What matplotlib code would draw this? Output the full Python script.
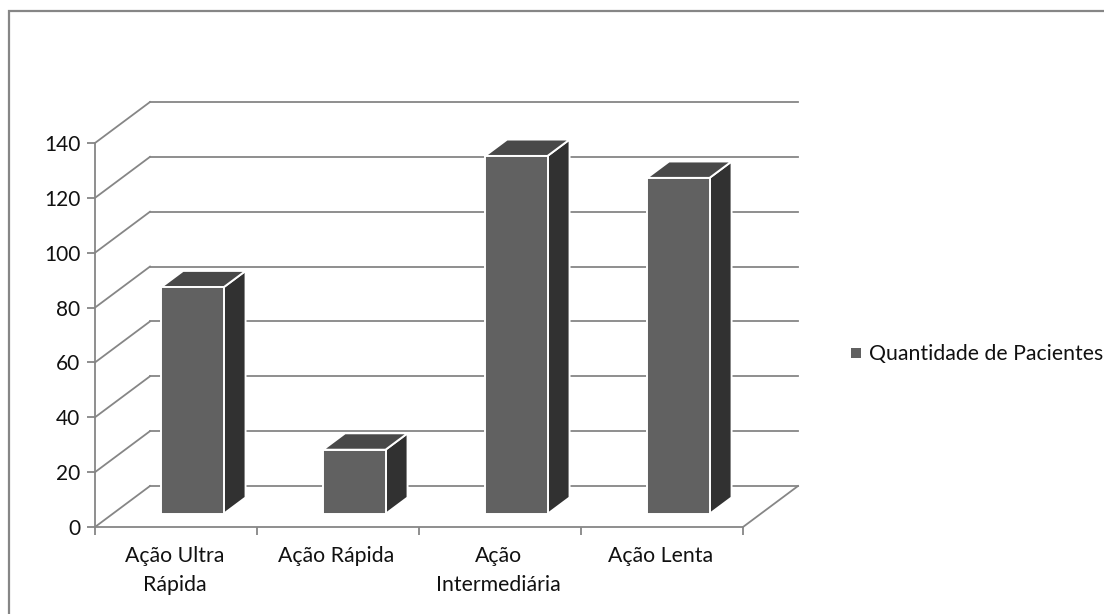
import matplotlib
matplotlib.use("Agg")
import matplotlib.pyplot as plt
from matplotlib.patches import Polygon, Rectangle

categories = ["Ação Ultra\nRápida", "Ação Rápida", "Ação\nIntermediária", "Ação Lenta"]
pacientes = [82.6, 23.4, 130.5, 122.5]
y_ticks = [0, 20, 40, 60, 80, 100, 120, 140]
serie = "Quantidade de Pacientes"

GRID = "#868686"
FRONT = "#616161"
TOP = "#494949"
SIDE = "#313131"

plt.rcParams["font.family"] = ["Lato", "DejaVu Sans"]
plt.rcParams["font.size"] = 12

W, H = 1104, 614
fig = plt.figure(figsize=(W / 100, H / 100), dpi=100)
ax = fig.add_axes([95 / W, 1 - 527 / H, 648 / W, 384 / H])
ax.set_xlim(0, 4)
ax.set_ylim(0, 140)

# oblique depth offset of the chart floor, in axis units
DX = 55 / 162
DY = 41 / (384 / 140)


def proj(x, y, d=0.0):
    return (x + d * DX, y + d * DY)


def face(points, **kw):
    ax.add_patch(Polygon(points, closed=True, clip_on=False, **kw))


# back wall gridlines and side wall diagonals
for v in y_ticks:
    ax.plot(*zip(proj(0, v), proj(0, v, 1)), color=GRID, lw=1.3, clip_on=False, zorder=1)
    ax.plot(*zip(proj(0, v, 1), proj(4, v, 1)), color=GRID, lw=1.3, clip_on=False, zorder=1)
ax.plot(*zip(proj(4, 0), proj(4, 0, 1)), color=GRID, lw=1.3, clip_on=False, zorder=1)

# 3d columns
bar_w = 62.5 / 162
d0, d1 = 0.32, 0.72
for i, v in enumerate(pacientes):
    x0 = i + 0.5 - bar_w / 2 - 0.008
    x1 = x0 + bar_w
    style = dict(edgecolor="white", lw=1.4, joinstyle="round", zorder=3)
    face([proj(x1, 0, d0), proj(x1, 0, d1), proj(x1, v, d1), proj(x1, v, d0)], facecolor=SIDE, **style)
    face([proj(x0, v, d0), proj(x1, v, d0), proj(x1, v, d1), proj(x0, v, d1)], facecolor=TOP, **style)
    face([proj(x0, 0, d0), proj(x1, 0, d0), proj(x1, v, d0), proj(x0, v, d0)], facecolor=FRONT, **style)

for s in ["top", "right"]:
    ax.spines[s].set_visible(False)
for s in ["left", "bottom"]:
    ax.spines[s].set_color(GRID)
    ax.spines[s].set_linewidth(1.3)
ax.patch.set_visible(False)

ax.set_yticks(y_ticks)
ax.set_xticks(range(5))
ax.set_xticklabels([])
ax.set_xticks([i + 0.49 for i in range(4)], minor=True)
ax.set_xticklabels(categories, minor=True, linespacing=1.52)
ax.tick_params(axis="both", which="major", color=GRID, width=1.3, length=6, labelsize=15, pad=4.5,
               labelcolor="#111111")
ax.tick_params(axis="x", which="minor", length=0, labelsize=15.3, pad=14, labelcolor="#111111")

# outer chart frame
fig.add_artist(Rectangle((8.5 / W, -2 / H), 1200 / W, (H - 9) / H, transform=fig.transFigure,
                         fill=False, edgecolor=GRID, lw=1.6))

# legend entry
fig.add_artist(Rectangle((850.5 / W, 1 - 358 / H), 10.5 / W, 10 / H, transform=fig.transFigure,
                         facecolor=FRONT, edgecolor="none"))
fig.text(869 / W, 1 - 354 / H, serie, fontsize=15.3, va="center", ha="left", color="#111111")

fig.savefig("out.png", dpi=100)
